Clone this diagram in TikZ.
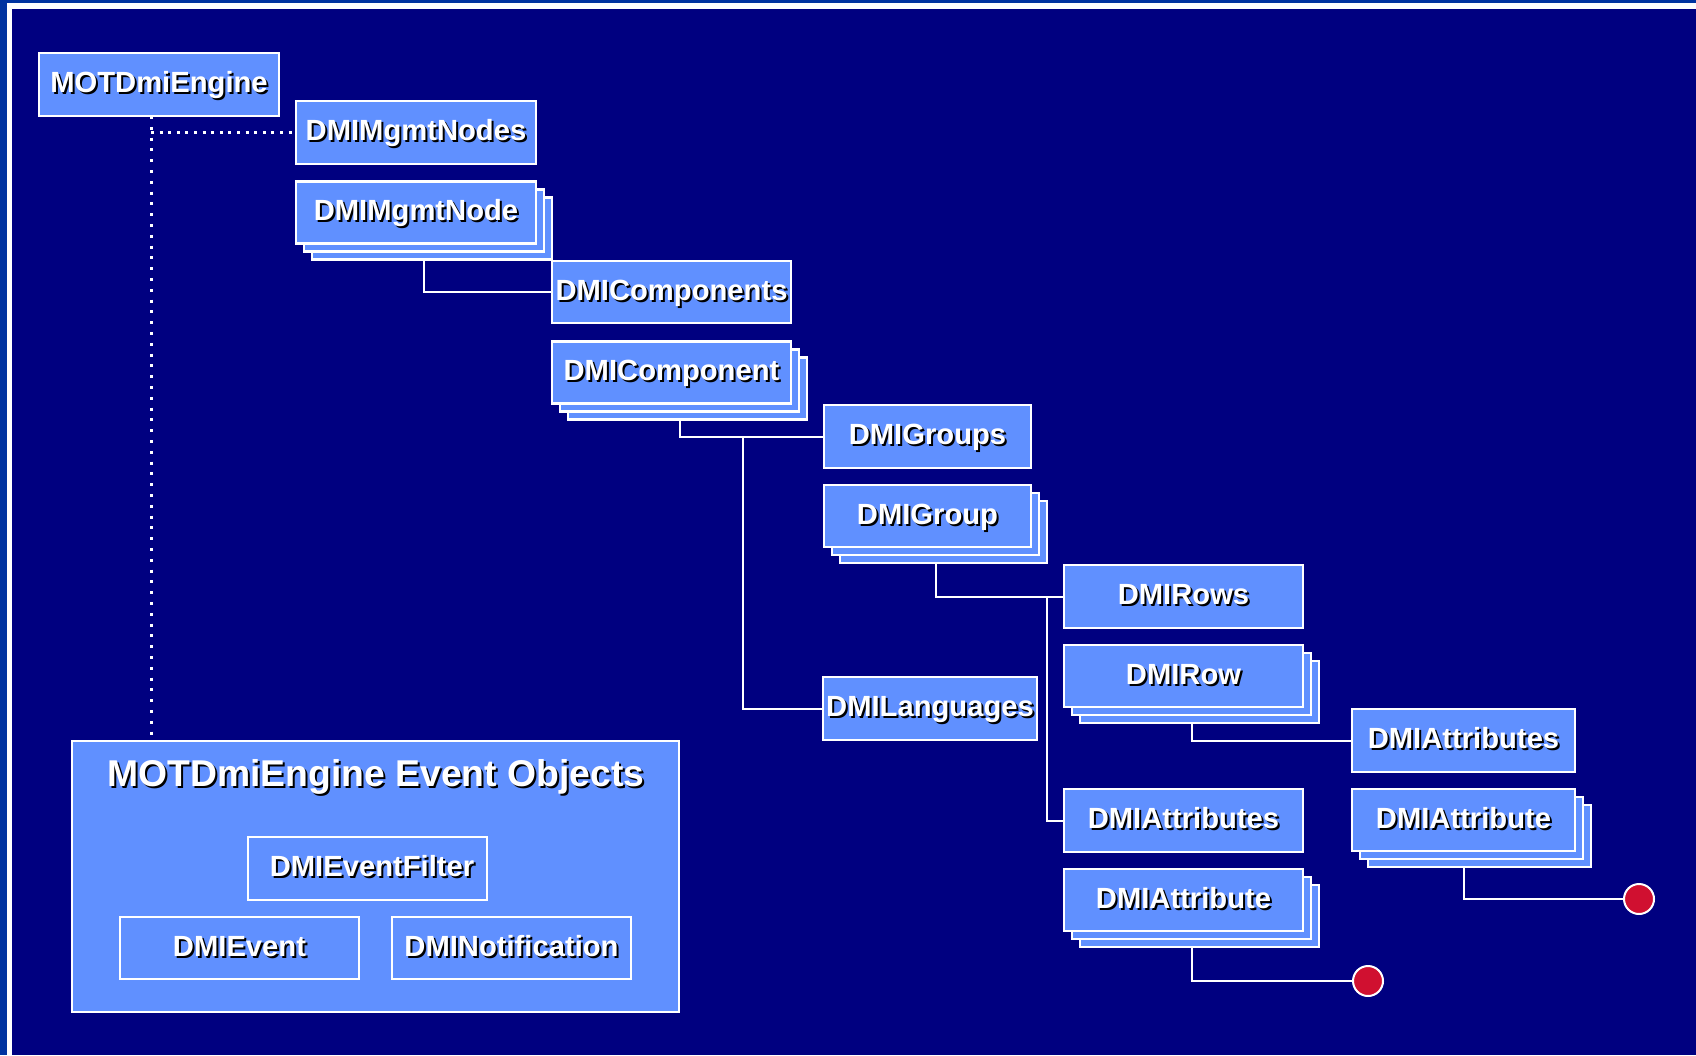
\documentclass[tikz,border=0pt]{standalone}
\usepackage{fontspec}
\setmainfont{Liberation Sans}
\definecolor{navy}{HTML}{000080}
\definecolor{outerblue}{HTML}{0033A0}
\definecolor{boxblue}{HTML}{6090FF}
\definecolor{dotred}{HTML}{D01030}
\newcommand\shd[1]{\leavevmode\rlap{\kern2pt\raisebox{-2pt}{\color{black}#1}}#1}
\tikzset{
  box/.style={draw=white, line width=2.5pt, fill=boxblue, inner sep=0pt,
    minimum height=63pt, text=white, text height=16.5pt, text depth=0pt,
    font=\fontsize{29.2}{35}\selectfont\bfseries},
  backbox/.style={draw=white, line width=2.5pt, fill=boxblue, inner sep=0pt, minimum height=62pt},
  link/.style={draw=white, line width=2pt},
  hdots/.style={draw=white, line width=3pt, dash pattern=on 3pt off 5.6pt},
  vdots/.style={draw=white, line width=3pt, dash pattern=on 3pt off 7.8pt},
  reddot/.style={circle, draw=white, line width=2pt, fill=dotred, minimum size=30pt, inner sep=0pt}
}
% name, x, y, width, text
\newcommand\stackbox[5]{%
  \node[backbox, minimum width=#4] (#1-b) at (#2+16,#3+16) {};
  \node[backbox, minimum width=#4] (#1-m) at (#2+8,#3+8) {};
  \node[box, minimum width=#4, minimum height=62pt] (#1) at (#2,#3) {\shd{#5}};
}
\begin{document}
\begin{tikzpicture}[x=1pt,y=-1pt]
\useasboundingbox (0,0) rectangle (1696,1055);
\fill[outerblue] (0,0) rectangle (1696,1055);
\fill[white] (7,3) rectangle (1696,1055);
\fill[navy] (12,9) rectangle (1696,1055);

% top-level
\node[box, minimum width=240pt] (engine) at (159,84.5) {\shd{MOTDmiEngine}};
\node[box, minimum width=240pt] (mgmtnodes) at (416,132.5) {\shd{DMIMgmtNodes}};
\stackbox{mgmtnode}{416}{212.5}{240pt}{DMIMgmtNode}
\node[box, minimum width=239pt, minimum height=62pt] (components) at (671.5,292) {\shd{DMIComponents}};
\stackbox{component}{671.5}{372.5}{239pt}{DMIComponent}
\node[box, minimum width=207pt] (groups) at (927.5,436.5) {\shd{DMIGroups}};
\stackbox{group}{927.5}{516}{207pt}{DMIGroup}
\node[box, minimum width=214pt] (languages) at (930,708.5) {\shd{DMILanguages}};
\node[box, minimum width=239pt] (rows) at (1183.5,596.5) {\shd{DMIRows}};
\stackbox{row}{1183.5}{676}{239pt}{DMIRow}
\node[box, minimum width=239pt] (attrsL) at (1183.5,820.5) {\shd{DMIAttributes}};
\stackbox{attrL}{1183.5}{900}{239pt}{DMIAttribute}
\node[box, minimum width=223pt] (attrsR) at (1463.5,740.5) {\shd{DMIAttributes}};
\stackbox{attrR}{1463.5}{820}{223pt}{DMIAttribute}
\node[reddot] (dot1) at (1368,981) {};
\node[reddot] (dot2) at (1639,899) {};

% event objects
\node[box, minimum width=607pt, minimum height=271pt] (events) at (375.5,876.5) {};
\node[text=white, font=\fontsize{37.3}{44}\selectfont\bfseries, inner sep=0pt, anchor=base] (evtitle) at (376,786) {\shd{MOTDmiEngine Event Objects}};
\node[box, minimum width=239pt] (filter) at (367.5,868.5) {\hspace{9pt}\shd{DMIEventFilter}};
\node[box, minimum width=239pt, minimum height=62pt] (event) at (239.5,948) {\shd{DMIEvent}};
\node[box, minimum width=239pt, minimum height=62pt] (notif) at (511.5,948) {\shd{DMINotification}};

% dotted links
\coordinate (dtop) at (151,116);
\draw[vdots] (dtop) -- (dtop |- events.north);
\draw[hdots] (dtop |- mgmtnodes.west) -- (mgmtnodes.west);

% solid links
\draw[link] (mgmtnode-m.center |- mgmtnode-b.south) |- (components.west);
\draw[link] (component-m.center |- component-b.south) |- (groups.west);
\coordinate (j1) at (743,436.5);
\draw[link] (j1) |- (languages.west);
\draw[link] (group-m.center |- group-b.south) |- (rows.west);
\coordinate (j2) at (1047,596.5);
\draw[link] (j2) |- (attrsL.west);
\draw[link] (row-m.center |- row-b.south) |- (attrsR.west);
\draw[link] (attrL-m.center |- attrL-b.south) |- (dot1.west);
\draw[link] (attrR.center |- attrR-b.south) |- (dot2.west);
\end{tikzpicture}
\end{document}
